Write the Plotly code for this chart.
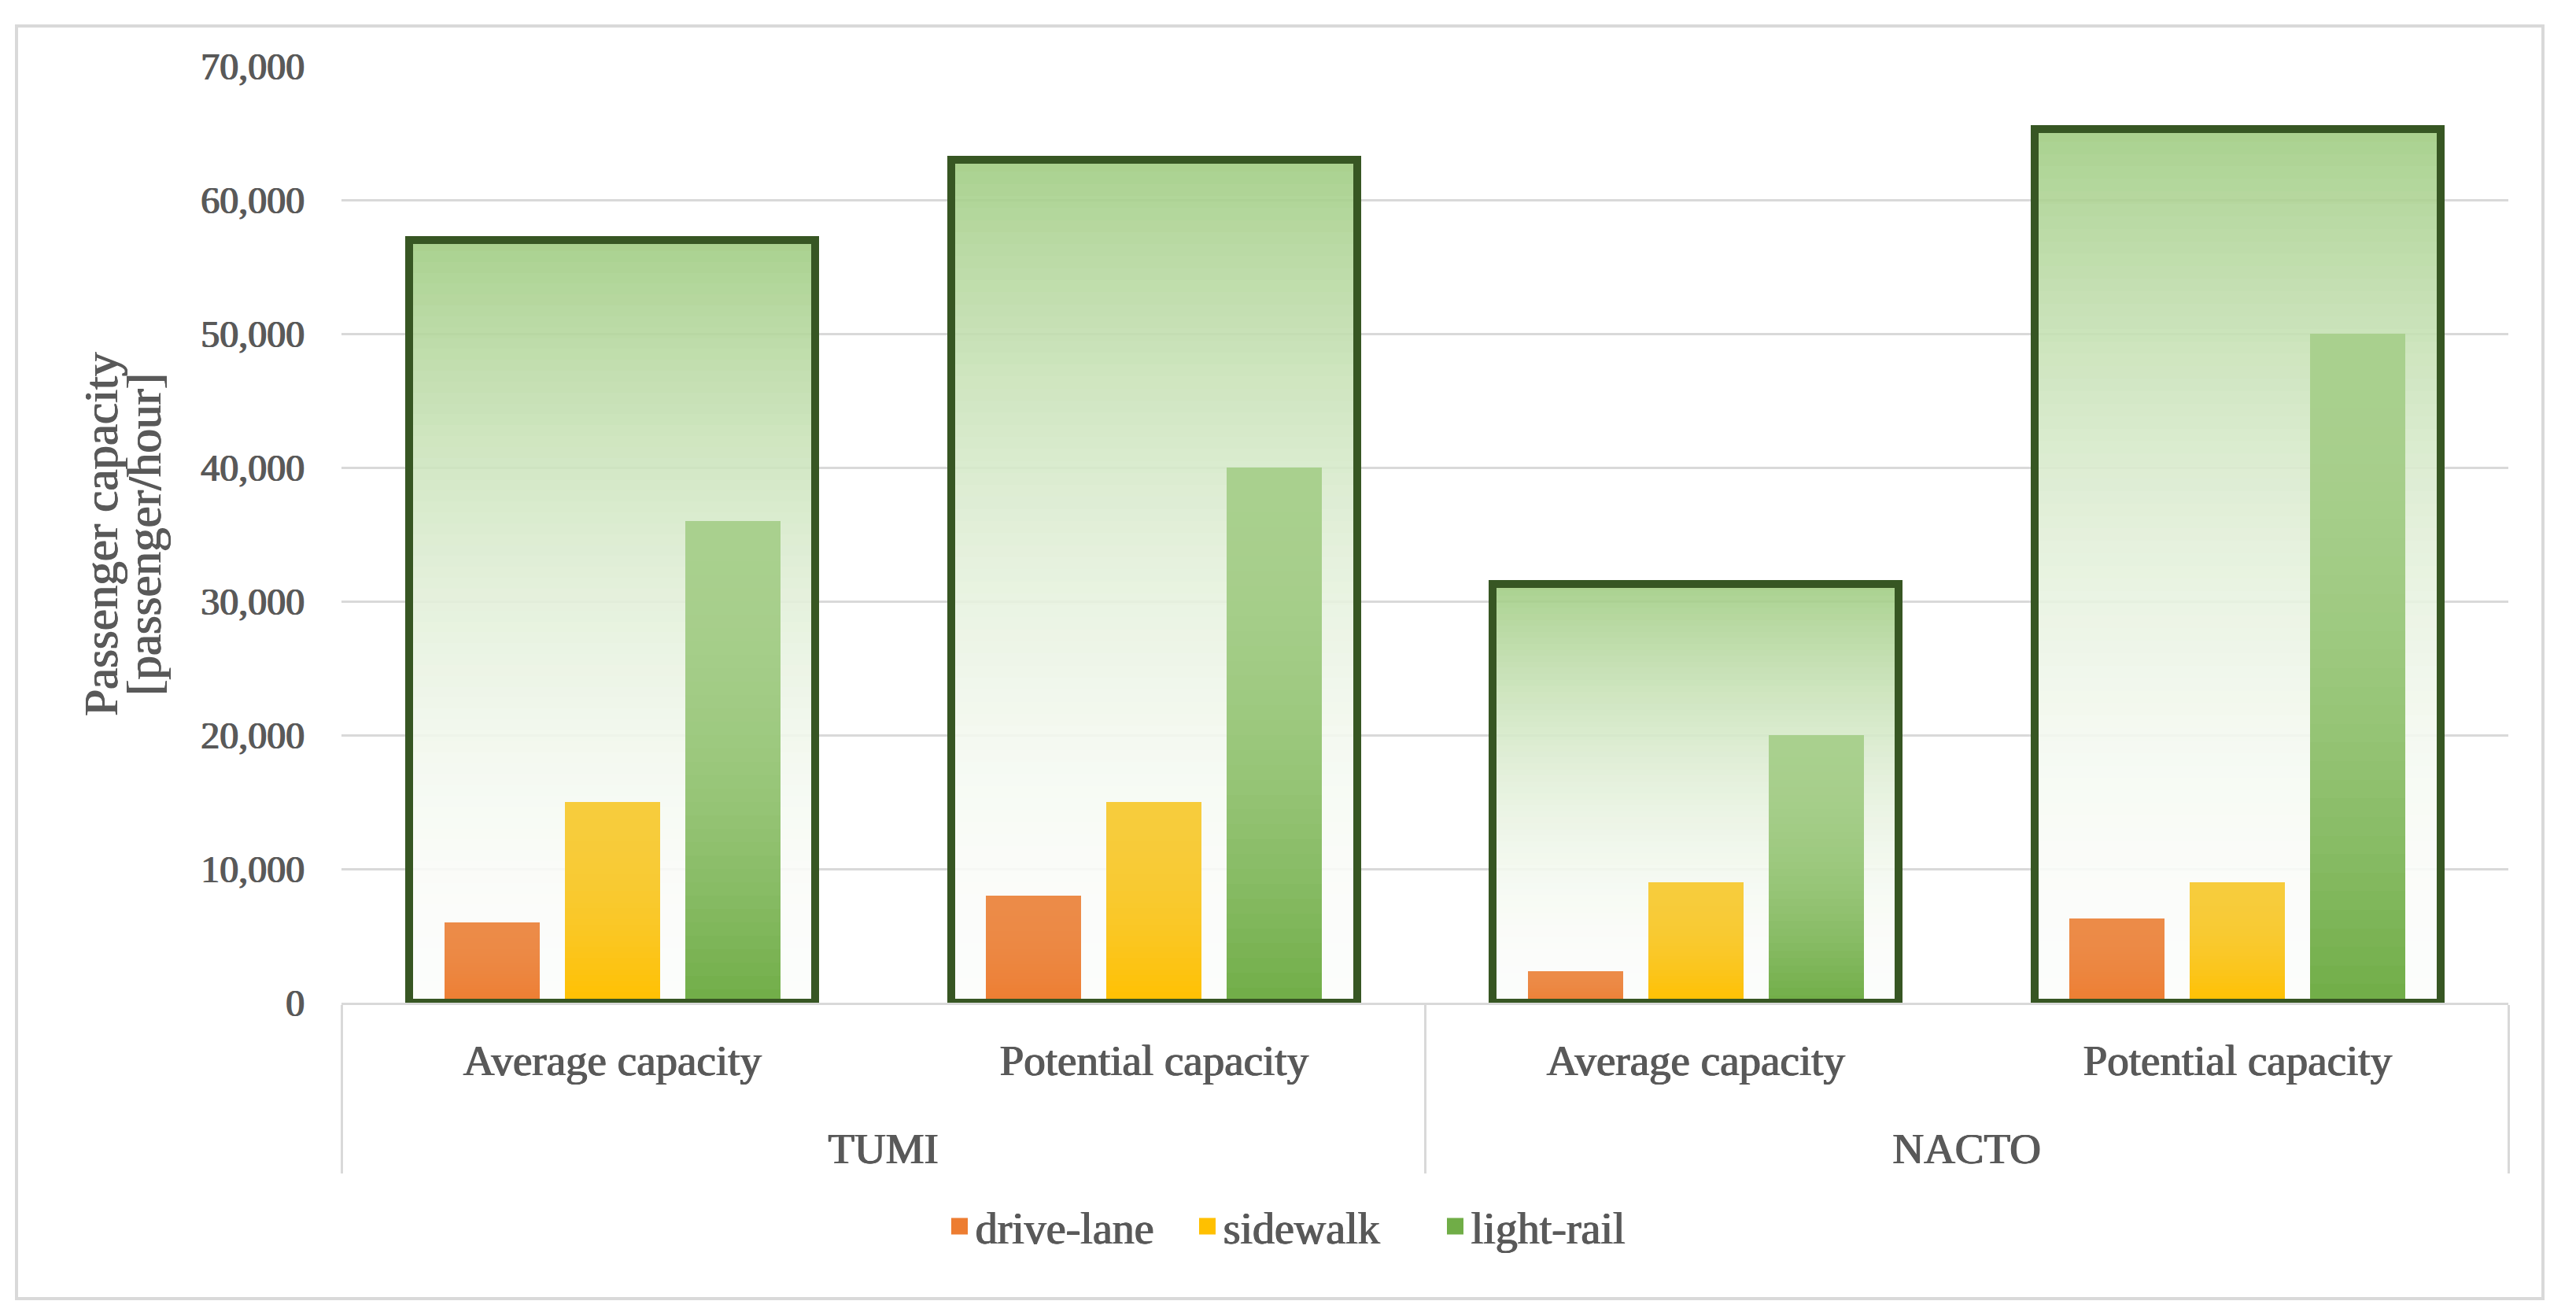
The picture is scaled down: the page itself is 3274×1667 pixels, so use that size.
import plotly.graph_objects as go

# ---------------- data ----------------
groups = ["TUMI", "TUMI", "NACTO", "NACTO"]
categories = ["Average capacity", "Potential capacity", "Average capacity", "Potential capacity"]
series_names = ["drive-lane", "sidewalk", "light-rail"]
drive_lane = [6000, 8000, 2300, 6300]
sidewalk = [15000, 15000, 9000, 9000]
light_rail = [36000, 40000, 20000, 50000]
y_ticks = [0, 10000, 20000, 30000, 40000, 50000, 60000, 70000]

series_values = [drive_lane, sidewalk, light_rail]
totals = [a + b + c for a, b, c in zip(drive_lane, sidewalk, light_rail)]

# ---------------- style ----------------
W, H = 3274, 1667
PL, PT, PR, PB = 434, 84, 3188, 1274      # target plot box (screen px)
SHIFT = 8                                  # page offset compensation
ML, MT = PL - SHIFT, PT - SHIFT
MR, MB = W - (PR - SHIFT), H - (PB - SHIFT)
FONT = "Liberation Serif"
TXT = "#595959"
SHADOW = "0.9px 0 0 #595959, -0.6px 0 0 #595959"
GRID = "#D9D9D9"
BORDER = "#375623"
bottom_cols = ["#ED7D31", "#FFC000", "#70AD47"]
top_cols = ["#EC8B48", "#F7CC3C", "#A9D08E"]
box_top = "#A9D18E"
box_bottom = "#FCFDFB"
bar_w = 0.176
bar_centers = [-0.222, 0.0, 0.222]
box_w = 0.75
N_BOX = 70
N_BAR = 36
ALPHA = 0.88


def h2r(h):
    h = h.lstrip("#")
    return [int(h[i:i + 2], 16) for i in (0, 2, 4)]


def mix(c1, c2, f):
    a, b = h2r(c1), h2r(c2)
    return [a[k] * (1 - f) + b[k] * f for k in range(3)]


def tfont(size):
    return dict(size=size, color=TXT, family=FONT, shadow=SHADOW)


# group labels sit one line lower than the category labels
group_labels = ["<br>" + g for g in groups]
x = [group_labels, categories]
fig = go.Figure()

# background "total" boxes with vertical gradient (light green at top -> white at bottom)
for i in range(N_BOX):
    s0, s1 = i / N_BOX, (i + 1) / N_BOX
    t = 1 - (s0 + s1) / 2  # distance from top
    m = 1 - (1 - t) ** 2
    c = mix(box_top, box_bottom, m)
    cd = [max(0, min(255, (v - (1 - ALPHA) * 255) / ALPHA)) for v in c]
    col = "rgba(%d,%d,%d,%.3f)" % (round(cd[0]), round(cd[1]), round(cd[2]), ALPHA)
    fig.add_trace(go.Bar(
        x=x, y=[v / N_BOX for v in totals], base=[v * s0 for v in totals],
        width=box_w, offset=-box_w / 2,
        marker=dict(color=col, line=dict(width=0)),
        showlegend=False, hoverinfo="skip"))

# series bars with vertical gradient (base colour at bottom -> lighter at top)
for si, vals in enumerate(series_values):
    for i in range(N_BAR):
        s0, s1 = i / N_BAR, (i + 1) / N_BAR
        s = (s0 + s1) / 2
        f = 1 - (1 - s) ** 2
        c = mix(bottom_cols[si], top_cols[si], f)
        col = "rgb(%d,%d,%d)" % tuple(round(v) for v in c)
        fig.add_trace(go.Bar(
            x=x, y=[v / N_BAR for v in vals], base=[v * s0 for v in vals],
            width=bar_w, offset=bar_centers[si] - bar_w / 2,
            marker=dict(color=col, line=dict(width=0)),
            showlegend=False, hoverinfo="skip"))

# box outlines
fig.add_trace(go.Bar(
    x=x, y=totals, width=box_w, offset=-box_w / 2,
    marker=dict(color="rgba(0,0,0,0)", line=dict(color=BORDER, width=10)),
    showlegend=False, hoverinfo="skip"))

# legend entries (square markers, no visible points)
for si, name in enumerate(series_names):
    fig.add_trace(go.Scatter(
        x=[[group_labels[0]], [categories[0]]], y=[None], name=name, mode="markers",
        marker=dict(symbol="square", size=16, color=bottom_cols[si],
                    line=dict(color=bottom_cols[si], width=5)),
        showlegend=True, hoverinfo="skip"))

pw = PR - PL
ph = PB - PT


def px_x(p):
    return (p - PL) / pw


def px_y(p):
    return (PB - p) / ph


fig.update_layout(
    width=W, height=H,
    margin=dict(l=ML, r=MR, t=MT, b=MB, autoexpand=False),
    paper_bgcolor="white", plot_bgcolor="white",
    barmode="overlay", bargap=0, bargroupgap=0,
    font=dict(family=FONT, color=TXT, size=50),
    showlegend=True,
    legend=dict(orientation="h", x=px_x(1672), xanchor="center",
                y=px_y(1558), yanchor="middle",
                font=tfont(56), entrywidth=270, entrywidthmode="pixels",
                itemclick=False, itemdoubleclick=False),
    xaxis=dict(type="multicategory", showgrid=False, showline=True,
               linecolor=GRID, linewidth=3, ticks="", tickangle=0,
               ticklabelstandoff=23,
               showdividers=True, dividercolor=GRID, dividerwidth=3,
               tickfont=tfont(55)),
    yaxis=dict(range=[0, 70000], tickvals=y_ticks, tickformat=",d",
               showgrid=True, gridcolor=GRID, gridwidth=3, zeroline=False,
               showline=False, ticks="", ticklabelstandoff=46,
               tickfont=tfont(48)),
    shapes=[dict(type="rect", xref="paper", yref="paper",
                 x0=px_x(21), x1=px_x(3232), y0=px_y(1650), y1=px_y(33),
                 line=dict(color=GRID, width=4), fillcolor="rgba(0,0,0,0)",
                 layer="below")],
    annotations=[
        dict(text="Passenger capacity", xref="paper", yref="paper",
             x=px_x(128), y=px_y(679), xanchor="center", yanchor="middle",
             textangle=-90, showarrow=False, font=tfont(61)),
        dict(text="[passenger/hour]", xref="paper", yref="paper",
             x=px_x(183), y=px_y(679), xanchor="center", yanchor="middle",
             textangle=-90, showarrow=False, font=tfont(61)),
    ],
)

fig.write_html("out.html")
